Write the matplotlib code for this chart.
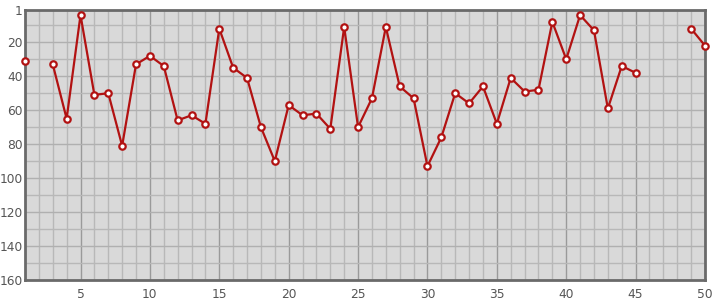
import matplotlib
matplotlib.use("Agg")
import matplotlib.pyplot as plt
import numpy as np

# data (None = missing point)
days = list(range(1, 51))
ranks = [31, None, 33, 65, 4, 51, 50, 81, 33, 28,
         34, 66, 63, 68, 12, 35, 41, 70, 90, 57,
         63, 62, 71, 11, 70, 53, 11, 46, 53, 93,
         76, 50, 56, 46, 68, 41, 49, 48, 8, 30,
         4, 13, 59, 34, 38, None, None, None, 12, 22]
x_ticks = [5, 10, 15, 20, 25, 30, 35, 40, 45, 50]
y_ticks = [1, 20, 40, 60, 80, 100, 120, 140, 160]

y = np.array([np.nan if r is None else r for r in ranks], dtype=float)

fig = plt.figure(figsize=(7.15, 3.0), dpi=100)
ax = fig.add_axes([25 / 715, 20 / 300, 680 / 715, 270 / 300])
ax.set_facecolor("#d9d9d9")

# grid: minor every 1 (x) / 10 (y), major every 5 (x) / 20 (y)
ax.set_xticks(np.arange(1, 51), minor=True)
ax.set_yticks(np.arange(10, 160, 10), minor=True)
ax.grid(True, which="minor", color="#b8b8b8", linewidth=1)
ax.grid(True, which="major", axis="x", color="#9a9a9a", linewidth=1)
ax.grid(True, which="major", axis="y", color="#b0b0b0", linewidth=1)
ax.set_axisbelow(True)

ax.plot(days, y, color="#b21212", linewidth=1.6, marker="o", markersize=4.6,
        markerfacecolor="white", markeredgecolor="#b21212", markeredgewidth=1.6,
        clip_on=False, zorder=3)

ax.set_xlim(1, 50)
ax.set_ylim(160, 1)
ax.set_xticks(x_ticks)
ax.set_yticks(y_ticks)
ax.tick_params(which="both", length=0, labelsize=8.8, colors="#555555", pad=6)
ax.tick_params(axis="y", pad=1.5)

for s in ax.spines.values():
    s.set_color("#6a6a6a")
    s.set_linewidth(2)

fig.savefig("out.png", dpi=100)
